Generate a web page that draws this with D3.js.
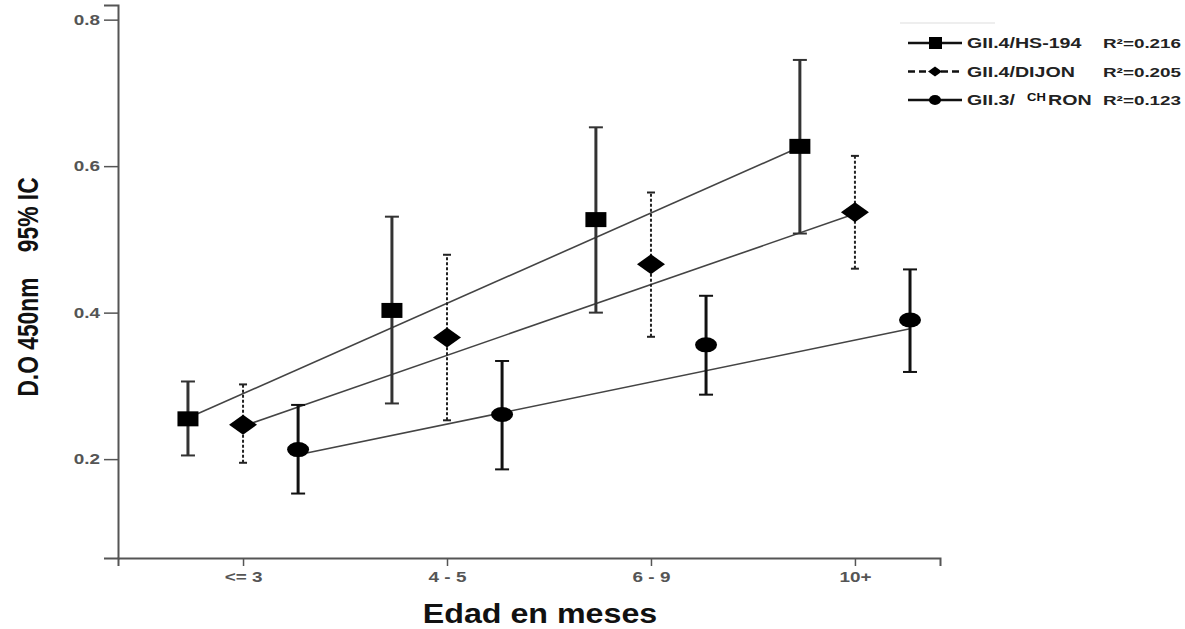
<!DOCTYPE html>
<meta charset="utf-8">
<body style="margin:0;background:white">
  <div id="content"></div>
</body>
<script src="https://cdn.jsdelivr.net/npm/d3@7"></script>
<script>
// categories and tick labels
var categories = ["<= 3", "4 - 5", "6 - 9", "10+"];
var yTicks = [0.2, 0.4, 0.6, 0.8];

// GII.4/HS-194 (squares)
var hsMean = [0.255, 0.403, 0.527, 0.627];
var hsLow  = [0.205, 0.276, 0.400, 0.508];
var hsHigh = [0.306, 0.531, 0.653, 0.745];
// GII.4/DIJON (diamonds)
var djMean = [0.247, 0.366, 0.466, 0.537];
var djLow  = [0.195, 0.253, 0.367, 0.460];
var djHigh = [0.302, 0.479, 0.564, 0.614];
// GII.3/CHIRON (circles)
var chMean = [0.213, 0.261, 0.356, 0.390];
var chLow  = [0.153, 0.186, 0.288, 0.319];
var chHigh = [0.274, 0.334, 0.423, 0.459];

// fitted lines: value at first and last group
var fitStart = [0.256, 0.245, 0.206];
var fitEnd   = [0.626, 0.535, 0.378];
var seriesNames = ["GII.4/HS-194", "GII.4/DIJON", "GII.3/"];
var rSquared = ["0.216", "0.205", "0.123"];

var chart = { width: 1185, height: 629 };
var series = [
  { mean: hsMean, low: hsLow, high: hsHigh, offset: -0.27, shape: "square", bar: "#333", dash: null, barWidth: 3, cap: 7 },
  { mean: djMean, low: djLow, high: djHigh, offset: 0, shape: "diamond", bar: "#222", dash: "3,2", barWidth: 2, cap: 4 },
  { mean: chMean, low: chLow, high: chHigh, offset: 0.27, shape: "circle", bar: "#111", dash: null, barWidth: 3, cap: 7 }
];

// the source picture is stretched sideways, so text is widened to fit
function stretch(sel, factor) {
  sel.each(function () {
    var w = this.getComputedTextLength();
    d3.select(this).attr("textLength", w * factor).attr("lengthAdjust", "spacingAndGlyphs");
  });
}

var svg = d3.select("#content").append("svg")
  .attr("width", chart.width).attr("height", chart.height)
  .style("background", "white")
  .style("font-family", "Liberation Sans, Arial, sans-serif");

var x = d3.scaleLinear().domain([-0.613, 3.417]).range([118, 940]);
var y = d3.scaleLinear().domain([0.065, 0.82]).range([558, 5]);

// axes
var xAxis = svg.append("g").attr("transform", "translate(0,558)")
  .call(d3.axisBottom(x).tickValues([0, 1, 2, 3]).tickFormat(function (i) { return categories[i]; })
    .tickSizeOuter(0).tickSize(8).tickPadding(6));
var yAxis = svg.append("g").attr("transform", "translate(118,0)")
  .call(d3.axisLeft(y).tickValues(yTicks).tickFormat(d3.format(".1f"))
    .tickSizeOuter(0).tickSize(14).tickPadding(4));
[xAxis, yAxis].forEach(function (a) {
  a.select(".domain").attr("stroke", "#555").attr("stroke-width", 2);
  a.selectAll(".tick line").attr("stroke", "#555").attr("stroke-width", 1.5);
  a.selectAll(".tick text").attr("fill", "#555").style("font-size", "14px").style("font-weight", "bold");
});
stretch(xAxis.selectAll(".tick text"), 1.35);
stretch(yAxis.selectAll(".tick text"), 1.35);

// axis titles
svg.append("text").attr("x", 540).attr("y", 623).attr("text-anchor", "middle")
  .style("font-size", "28px").style("font-weight", "bold").attr("fill", "#111")
  .text("Edad en meses").call(stretch, 1.15);
svg.append("text").attr("transform", "translate(38,287) rotate(-90)").attr("text-anchor", "middle")
  .style("font-size", "30px").style("font-weight", "bold").attr("fill", "#111")
  .style("white-space", "pre")
  .text("D.O 450nm    95% IC").call(stretch, 0.76);

// fitted lines
series.forEach(function (s, k) {
  svg.append("line")
    .attr("x1", x(0 + s.offset)).attr("y1", y(fitStart[k]))
    .attr("x2", x(3 + s.offset)).attr("y2", y(fitEnd[k]))
    .attr("stroke", "#444").attr("stroke-width", 1.6);
});

// error bars and markers
series.forEach(function (s) {
  var g = svg.append("g");
  var idx = d3.range(categories.length);
  g.selectAll(".bar").data(idx).enter().append("line")
    .attr("x1", function (i) { return x(i + s.offset); })
    .attr("x2", function (i) { return x(i + s.offset); })
    .attr("y1", function (i) { return y(s.low[i]); })
    .attr("y2", function (i) { return y(s.high[i]); })
    .attr("stroke", s.bar).attr("stroke-width", s.barWidth)
    .attr("stroke-dasharray", s.dash);
  ["low", "high"].forEach(function (key) {
    g.selectAll(".cap-" + key).data(idx).enter().append("line")
      .attr("x1", function (i) { return x(i + s.offset) - s.cap; })
      .attr("x2", function (i) { return x(i + s.offset) + s.cap; })
      .attr("y1", function (i) { return y(s[key][i]); })
      .attr("y2", function (i) { return y(s[key][i]); })
      .attr("stroke", s.bar).attr("stroke-width", 2);
  });
  var m = g.selectAll(".mark").data(idx).enter();
  if (s.shape === "square") {
    m.append("rect")
      .attr("x", function (i) { return x(i + s.offset) - 10.5; })
      .attr("y", function (i) { return y(s.mean[i]) - 7.5; })
      .attr("width", 21).attr("height", 15).attr("fill", "#000");
  } else if (s.shape === "diamond") {
    m.append("path")
      .attr("d", function (i) {
        var cx = x(i + s.offset), cy = y(s.mean[i]);
        return "M" + (cx - 14) + "," + cy + "L" + cx + "," + (cy - 10) + "L" + (cx + 14) + "," + cy + "L" + cx + "," + (cy + 10) + "Z";
      })
      .attr("fill", "#000");
  } else {
    m.append("ellipse")
      .attr("cx", function (i) { return x(i + s.offset); })
      .attr("cy", function (i) { return y(s.mean[i]); })
      .attr("rx", 11).attr("ry", 7.5).attr("fill", "#000");
  }
});

// legend
var legend = svg.append("g");
legend.append("line").attr("x1", 900).attr("x2", 995).attr("y1", 23).attr("y2", 23)
  .attr("stroke", "#ddd").attr("stroke-width", 1);
series.forEach(function (s, k) {
  var ly = 43 + k * 28.5;
  legend.append("line").attr("x1", 908).attr("x2", 962).attr("y1", ly).attr("y2", ly)
    .attr("stroke", "#111").attr("stroke-width", 2.5)
    .attr("stroke-dasharray", s.shape === "diamond" ? "7,4" : null);
  if (s.shape === "square") {
    legend.append("rect").attr("x", 929).attr("y", ly - 6).attr("width", 13).attr("height", 12).attr("fill", "#000");
  } else if (s.shape === "diamond") {
    legend.append("path").attr("d", "M928," + ly + "L935," + (ly - 5) + "L942," + ly + "L935," + (ly + 5) + "Z").attr("fill", "#000");
  } else {
    legend.append("ellipse").attr("cx", 935).attr("cy", ly).attr("rx", 6).attr("ry", 5).attr("fill", "#000");
  }
  var name = legend.append("text").attr("x", 967).attr("y", ly + 5)
    .style("font-size", "14px").style("font-weight", "bold").attr("fill", "#222")
    .text(seriesNames[k]).call(stretch, 1.4);
  if (k === 2) {
    legend.append("text").attr("x", 1027).attr("y", ly + 1)
      .style("font-size", "10px").style("font-weight", "bold").attr("fill", "#111")
      .text("CH").call(stretch, 1.3);
    legend.append("text").attr("x", 1048).attr("y", ly + 5)
      .style("font-size", "14px").style("font-weight", "bold").attr("fill", "#222")
      .text("RON").call(stretch, 1.4);
  }
  legend.append("text").attr("x", 1103).attr("y", ly + 5)
    .style("font-size", "13px").style("font-weight", "bold").attr("fill", "#222")
    .text("R\u00b2=" + rSquared[k]).call(stretch, 1.45);
});
</script>
